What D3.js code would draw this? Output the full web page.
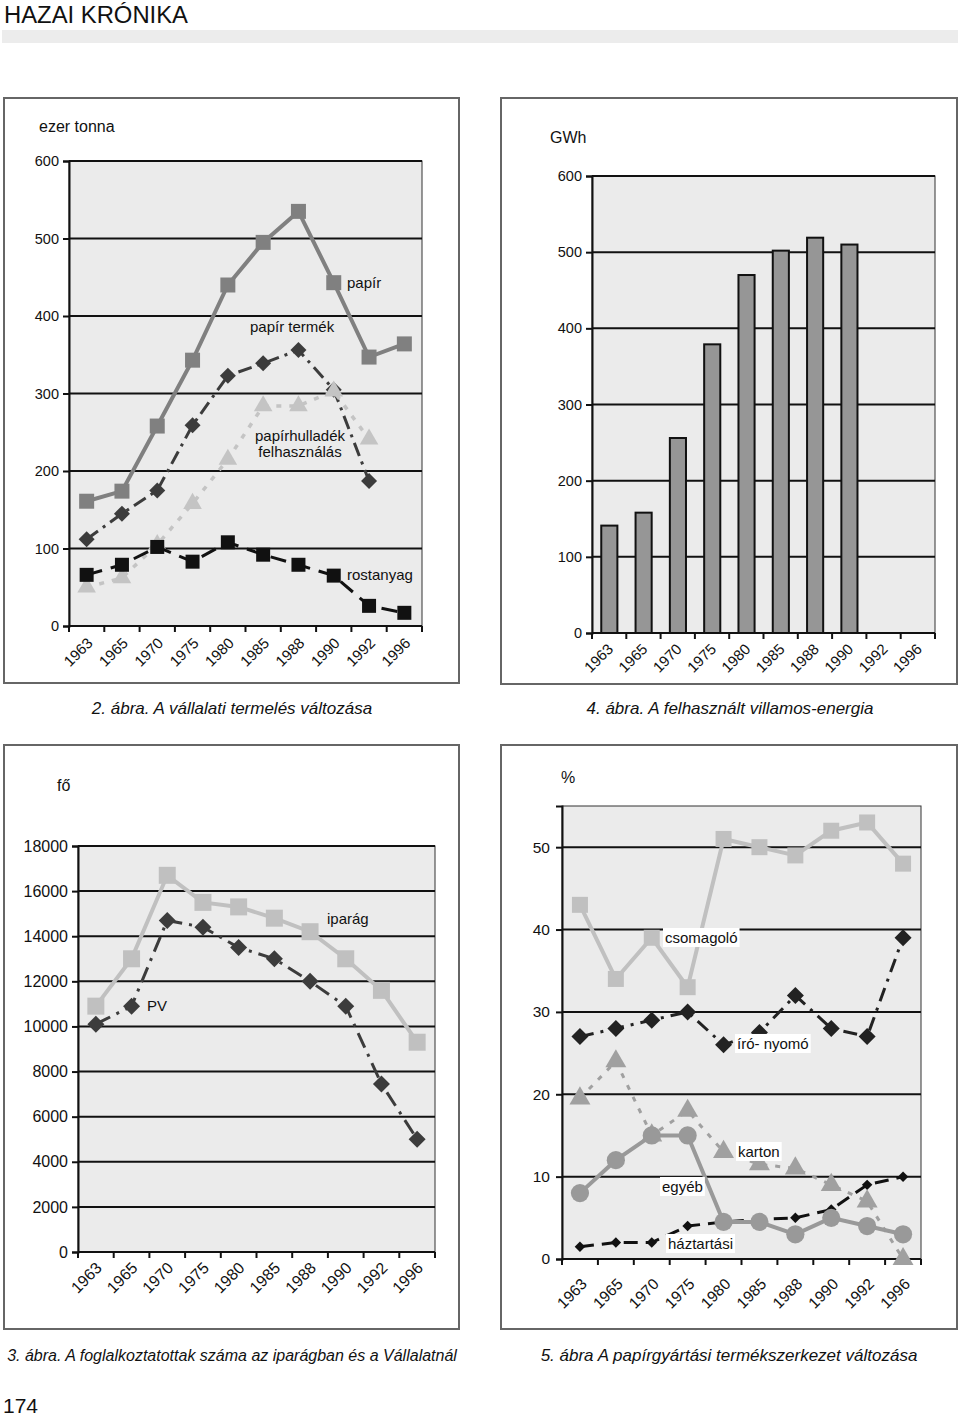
<!DOCTYPE html>
<html><head><meta charset="utf-8">
<script src="https://cdn.jsdelivr.net/npm/d3@7"></script>
<style>body{margin:0;background:#fff}svg{display:block;font-family:"Liberation Sans",Arial,sans-serif}</style>
</head><body><svg id="c" width="960" height="1417"></svg>
<script>
// ---------- DATA ----------
const years = ["1963","1965","1970","1975","1980","1985","1988","1990","1992","1996"];

// 2. ábra (ezer tonna)
const prodTicks = [0,100,200,300,400,500,600];
const papir        = [161,174,258,343,440,495,535,443,347,364];
const papirTermek  = [112,145,175,259,323,339,356,305,187,null];
const papirhulladek= [50,62,105,158,215,284,284,303,241,null];
const rostanyag    = [66,79,102,83,108,92,79,65,26,17];

// 4. ábra (GWh)
const energyTicks = [0,100,200,300,400,500,600];
const energia = [141,158,256,379,470,502,519,510,null,null];

// 3. ábra (fő)
const empTicks = [0,2000,4000,6000,8000,10000,12000,14000,16000,18000];
const iparag = [10900,13000,16700,15500,15300,14800,14200,13000,11600,9300];
const pv     = [10100,10900,14700,14400,13500,13000,12000,10900,7450,5000];

// 5. ábra (%)
const pctTicks = [0,10,20,30,40,50];
const csomagolo  = [43,34,39,33,51,50,49,52,53,48];
const iroNyomo   = [27,28,29,30,26,27.5,32,28,27,39];
const karton     = [19.5,24,15,18,13,11.5,11,9,7,0];
const egyeb      = [8,12,15,15,4.5,4.5,3,5,4,3];
const haztartasi = [1.5,2,2,4,4.5,4.8,5,6,9,10];

// ---------- DRAW ----------
const svg = d3.select("#c");
svg.append("rect").attr("width",960).attr("height",1417).attr("fill","#fff");

// header
svg.append("text").attr("x",4).attr("y",23).attr("font-size",23).attr("fill","#111")
  .attr("textLength",184).attr("lengthAdjust","spacingAndGlyphs").text("HAZAI KRÓNIKA");
svg.append("rect").attr("x",2).attr("y",30).attr("width",956).attr("height",13).attr("fill","#ececec");
svg.append("text").attr("x",3).attr("y",1413).attr("font-size",21).attr("fill","#111").text("174");

function panel(o){
  const g = svg.append("g");
  g.append("rect").attr("x",o.frame[0]).attr("y",o.frame[1]).attr("width",o.frame[2]).attr("height",o.frame[3])
    .attr("fill","#fff").attr("stroke","#666").attr("stroke-width",2);
  const xb = d3.scaleBand().domain(years).range([o.x0,o.x1]);
  const y = d3.scaleLinear().domain(o.domain).range([o.yb,o.yt]);
  g.append("rect").attr("x",o.x0).attr("y",o.yt).attr("width",o.x1-o.x0).attr("height",o.yb-o.yt)
    .attr("fill","#ebebeb").attr("stroke","#333").attr("stroke-width",1);
  // gridlines
  g.selectAll(".grid").data(o.ticks.filter(t=>t!==o.domain[0])).enter().append("line")
    .attr("x1",o.x0).attr("x2",o.x1).attr("y1",d=>y(d)).attr("y2",d=>y(d))
    .attr("stroke","#111").attr("stroke-width",2);
  // y axis
  const ya = g.append("g").attr("transform",`translate(${o.x0},0)`)
    .call(d3.axisLeft(y).tickValues(o.ticks).tickSize(6).tickPadding(o.ypad||4).tickFormat(d3.format("d")));
  ya.select(".domain").attr("stroke","#111").attr("stroke-width",2);
  ya.selectAll(".tick line").attr("stroke","#111").attr("stroke-width",2);
  ya.selectAll(".tick text").attr("font-size",o.ysize).attr("fill","#111").attr("font-family","Liberation Sans, Arial, sans-serif");
  // x axis
  const xa = g.append("g").attr("transform",`translate(0,${o.yb})`);
  xa.append("line").attr("x1",o.x0).attr("x2",o.x1).attr("stroke","#111").attr("stroke-width",2);
  const bnds = years.map(v=>xb(v)).concat([o.x1]);
  xa.selectAll(".tk").data(bnds).enter().append("line").attr("x1",d=>d).attr("x2",d=>d)
    .attr("y1",0).attr("y2",6).attr("stroke","#111").attr("stroke-width",2);
  xa.selectAll(".lbl").data(years).enter().append("text")
    .attr("transform",d=>`translate(${xb(d)+xb.bandwidth()/2+o.ldx},${o.ldy}) rotate(-45)`)
    .attr("text-anchor","end").attr("font-size",o.lsize).attr("fill","#111").text(d=>d);
  // unit label
  g.append("text").attr("x",o.unit[0]).attr("y",o.unit[1]).attr("font-size",16).attr("fill","#111").text(o.unit[2]);
  // caption
  g.append("text").attr("x",o.cap[0]).attr("y",o.cap[1]).attr("font-size",o.cap[3]).attr("font-style","italic")
    .attr("fill","#111").attr("text-anchor","middle").text(o.cap[2]);
  return {g,xb,y};
}

const diamond = {draw(ctx,size){const r=Math.sqrt(size)/2;ctx.moveTo(0,-r);ctx.lineTo(r,0);ctx.lineTo(0,r);ctx.lineTo(-r,0);ctx.closePath();}};
function series(p,vals,st){
  const cx = i => p.xb(years[i])+p.xb.bandwidth()/2;
  const line = d3.line().defined(d=>d!=null).x((d,i)=>cx(i)).y(d=>p.y(d));
  p.g.append("path").attr("d",line(vals)).attr("fill","none").attr("stroke",st.line)
    .attr("stroke-width",st.lw).attr("stroke-dasharray",st.dash||null);
  const shapes = {square:d3.symbolSquare,triangle:d3.symbolTriangle,circle:d3.symbolCircle,diamond:diamond};
  const sym = d3.symbol().type(shapes[st.shape]).size(st.size);
  p.g.selectAll(null).data(vals.map((v,i)=>({v,i})).filter(d=>d.v!=null)).enter().append("path")
    .attr("d",sym).attr("transform",d=>`translate(${cx(d.i)},${p.y(d.v)})`)
    .attr("fill",st.fill);
}
function label(p,x,y,t,bg,anchor){
  const tx = p.g.append("text").attr("x",x).attr("y",y).attr("font-size",15).attr("fill","#111")
    .attr("text-anchor",anchor||"start").attr("dominant-baseline","middle").text(t);
  if(bg){const b=tx.node().getBBox();p.g.insert("rect",()=>tx.node()).attr("x",b.x-2).attr("y",b.y-1)
    .attr("width",b.width+4).attr("height",b.height+2).attr("fill","#fff");}
}

// 2. ábra
const p1 = panel({frame:[4,98,455,585],x0:69,x1:422,yt:161,yb:626,domain:[0,600],ticks:prodTicks,ysize:14.5,
  ldx:7,ldy:18,lsize:15,
  unit:[39,132,"ezer tonna"],cap:[232,714,"2. ábra. A vállalati termelés változása",17]});
series(p1,papir,{line:"#808080",lw:4,shape:"square",size:225,fill:"#808080"});
series(p1,papirTermek,{line:"#3c3c3c",lw:3,dash:"14,6,3,6",shape:"diamond",size:256,fill:"#3c3c3c"});
series(p1,papirhulladek,{line:"#c4c4c4",lw:3.5,dash:"5,8",shape:"triangle",size:150,fill:"#c4c4c4"});
series(p1,rostanyag,{line:"#111",lw:3,dash:"16,9",shape:"square",size:196,fill:"#111"});
label(p1,347,284,"papír");
label(p1,250,328,"papír termék");
label(p1,300,437,"papírhulladék",false,"middle");
label(p1,300,453,"felhasználás",false,"middle");
label(p1,347,576,"rostanyag");

// 4. ábra
const p2 = panel({frame:[501,98,456,586],x0:592,x1:935,yt:176,yb:633,domain:[0,600],ticks:energyTicks,ysize:14.5,
  ldx:5,ldy:17,lsize:15,
  unit:[550,143,"GWh"],cap:[730,714,"4. ábra. A felhasznált villamos-energia",17]});
p2.g.selectAll(".bar").data(energia.map((v,i)=>({v,i})).filter(d=>d.v!=null)).enter().append("rect")
  .attr("x",d=>p2.xb(years[d.i])+p2.xb.bandwidth()*0.27).attr("width",p2.xb.bandwidth()*0.47)
  .attr("y",d=>p2.y(d.v)).attr("height",d=>p2.y(0)-p2.y(d.v))
  .attr("fill","#969696").attr("stroke","#111").attr("stroke-width",2);

// 3. ábra
const p3 = panel({frame:[4,745,455,584],x0:78,x1:435,yt:846,yb:1252,domain:[0,18000],ticks:empTicks,ysize:16,
  ldx:7,ldy:17,lsize:16,
  unit:[57,791,"fő"],cap:[232,1361,"3. ábra. A foglalkoztatottak száma az iparágban és a Vállalatnál",16]});
series(p3,iparag,{line:"#c0c0c0",lw:4,shape:"square",size:289,fill:"#c0c0c0"});
series(p3,pv,{line:"#3c3c3c",lw:3,dash:"16,7,3,7",shape:"diamond",size:289,fill:"#3c3c3c"});
label(p3,327,920,"iparág");
label(p3,147,1007,"PV");

// 5. ábra
const p4 = panel({frame:[501,745,456,584],x0:562,x1:921,yt:806,yb:1259,domain:[0,55],ticks:pctTicks,ysize:15.5,ypad:6,
  ldx:8,ldy:26,lsize:15.5,
  unit:[561,783,"%"],cap:[729,1361,"5. ábra A papírgyártási termékszerkezet változása",17]});
series(p4,csomagolo,{line:"#c0c0c0",lw:4,shape:"square",size:256,fill:"#c0c0c0"});
series(p4,iroNyomo,{line:"#222",lw:3,dash:"14,7,3,7",shape:"diamond",size:289,fill:"#222"});
series(p4,haztartasi,{line:"#111",lw:3,dash:"14,8",shape:"diamond",size:110,fill:"#111"});
series(p4,karton,{line:"#a0a0a0",lw:3,dash:"5,8",shape:"triangle",size:190,fill:"#a0a0a0"});
series(p4,egyeb,{line:"#999",lw:4,shape:"circle",size:260,fill:"#999"});
label(p4,665,939,"csomagoló",true);
label(p4,737,1045,"író- nyomó",true);
label(p4,738,1153,"karton",true);
label(p4,662,1188,"egyéb",true);
label(p4,668,1245,"háztartási",true);
</script></body></html>
